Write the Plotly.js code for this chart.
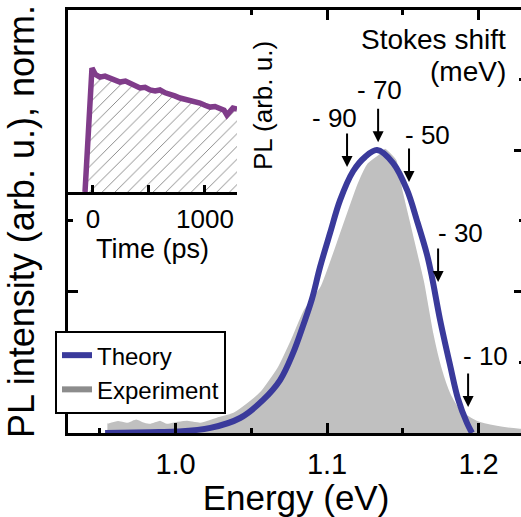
<!DOCTYPE html>
<html>
<head>
<meta charset="utf-8">
<script src="https://cdn.plot.ly/plotly-3.0.1.min.js"></script>
<style>
html,body{margin:0;padding:0;overflow:hidden;background:#fff;width:521px;height:517px;}
#plot{width:528px;height:517px;}
</style>
</head>
<body>
<div id="plot"></div>
<script>
// ---- Main panel data (energy in eV, normalized PL) ----
var theoryE = [0.9535, 0.983, 1.000, 1.023, 1.0426, 1.0578, 1.069, 1.0776, 1.0842, 1.090, 1.0954, 1.102, 1.1086, 1.1172, 1.125, 1.133, 1.1436, 1.1528, 1.1594, 1.166, 1.1693, 1.1746, 1.1812, 1.1865, 1.1924, 1.1957];
var theoryI = [0.0, 0.003, 0.005, 0.018, 0.053, 0.117, 0.187, 0.283, 0.380, 0.473, 0.587, 0.707, 0.823, 0.925, 0.975, 1.0, 0.954, 0.859, 0.750, 0.630, 0.550, 0.400, 0.240, 0.120, 0.035, 0.0];

var expE = [0.955, 0.962, 0.968, 0.974, 0.979, 0.9832, 0.9898, 0.9944, 1.001, 1.0076, 1.0162, 1.0274, 1.038, 1.0492, 1.0558, 1.067, 1.0756, 1.0842, 1.0954, 1.1086, 1.1198, 1.1264, 1.133, 1.1383, 1.1462, 1.1502, 1.1554, 1.1607, 1.1647, 1.1667, 1.1706, 1.1759, 1.1818, 1.1884, 1.199, 1.2122, 1.2274, 1.231];
var expI = [0.035, 0.045, 0.039, 0.050, 0.040, 0.035, 0.046, 0.035, 0.042, 0.046, 0.039, 0.057, 0.074, 0.117, 0.148, 0.233, 0.329, 0.435, 0.520, 0.715, 0.883, 0.954, 0.982, 1.007, 0.965, 0.859, 0.742, 0.622, 0.530, 0.470, 0.353, 0.233, 0.141, 0.081, 0.046, 0.028, 0.018, 0.017];

// ---- Inset data (time in ps, PL arb. u.) ----
var timePs = [-71, -45, -18, -9, 20, 62, 107, 152, 200, 241, 290, 330, 375, 420, 465, 509, 555, 598, 645, 688, 730, 777, 820, 866, 910, 955, 1000, 1045, 1090, 1134, 1170, 1196, 1225, 1250, 1286];
var insetPL = [0, 0.50, 0.944, 1.0, 0.95, 0.927, 0.935, 0.919, 0.90, 0.887, 0.895, 0.879, 0.86, 0.839, 0.845, 0.823, 0.815, 0.823, 0.80, 0.782, 0.775, 0.758, 0.75, 0.742, 0.73, 0.718, 0.70, 0.685, 0.69, 0.677, 0.66, 0.621, 0.66, 0.677, 0.67];

// ---- Stokes shift markers ----
var shiftLabels = ['- 90', '- 70', '- 50', '- 30', '- 10'];
var shiftArrowE = [1.1132, 1.1337, 1.1541, 1.1733, 1.1931];
var shiftArrowI = [0.94, 1.028, 0.887, 0.534, 0.092];
var shiftLabelE = [1.1046, 1.1343, 1.166, 1.1878, 1.2043];
var shiftLabelI = [1.113, 1.212, 1.053, 0.707, 0.272];

// ---- tick definitions ----
var xTickVals = [1.0, 1.1, 1.2];
var xTickText = ['1.0', '1.1', '1.2'];
var insetXTickVals = [0, 500, 1000];
var insetXTickText = ['0', '', '1000'];
var insetRightTicks = [1.282, 1.0, 0.919, 0.839, 0.766, 0.685, 0.621, 0.323, 0.032];

var FONT = 'Liberation Sans, Arial, Helvetica, sans-serif';
var BLUE = 'rgb(58,58,155)';
var PURPLE = 'rgb(128,60,138)';

var traces = [
  {x: expE, y: expI, type: 'scatter', mode: 'lines', fill: 'tozeroy', fillcolor: '#c0c0c0',
   line: {color: 'white', width: 1.5, shape: 'spline', smoothing: 0.5}, showlegend: false, hoverinfo: 'skip'},
  {x: theoryE, y: theoryI, type: 'scatter', mode: 'lines', name: 'Theory',
   line: {color: BLUE, width: 6, shape: 'spline', smoothing: 1.0}},
  {x: [null], y: [null], type: 'scatter', mode: 'lines', name: 'Experiment',
   line: {color: '#8c8c8c', width: 6}},
  {x: timePs, y: insetPL, xaxis: 'x2', yaxis: 'y2', type: 'scatter', mode: 'lines',
   fill: 'tozeroy', fillcolor: 'white',
   fillpattern: {shape: '/', size: 9, solidity: 0.1, fgcolor: '#808080', bgcolor: 'white'},
   line: {color: PURPLE, width: 5.5}, showlegend: false, cliponaxis: true}
];

var annotations = [
  {xref: 'x', yref: 'y', x: 1.17, y: 1.392, text: 'Stokes shift', showarrow: false, font: {size: 28, family: FONT, color: 'black'}},
  {xref: 'x', yref: 'y', x: 1.193, y: 1.276, text: '(meV)', showarrow: false, font: {size: 28, family: FONT, color: 'black'}},
  {xref: 'paper', yref: 'paper', x: 0.4276, y: 0.7754, xanchor: 'center', yanchor: 'middle',
   text: 'PL (arb. u.)', textangle: -90, showarrow: false,
   font: {size: 26, family: FONT, color: 'black'}}
];
for (var i = 0; i < shiftLabels.length; i++) {
  annotations.push({xref: 'x', yref: 'y', x: shiftLabelE[i], y: shiftLabelI[i], text: shiftLabels[i],
    showarrow: false, font: {size: 26, family: FONT, color: 'black'}});
  annotations.push({xref: 'x', yref: 'y', x: shiftArrowE[i], y: shiftArrowI[i], text: '',
    showarrow: true, arrowhead: 2, arrowsize: 1.1, arrowwidth: 2, arrowcolor: 'black', ax: 0, ay: -35, standoff: 0});
}

var layout = {
  width: 528, height: 517,
  margin: {l: 68, r: 4, t: 10, b: 84},
  paper_bgcolor: 'white', plot_bgcolor: 'white',
  font: {family: FONT, color: 'black'},
  showlegend: true,
  legend: {x: -0.0285, y: 0.241, xanchor: 'left', yanchor: 'top', bgcolor: 'white',
           bordercolor: 'black', borderwidth: 2, font: {size: 24, family: FONT, color: 'black'},
           tracegroupgap: 0},
  xaxis: {range: [0.929, 1.230], showgrid: false, zeroline: false, showline: true, linecolor: 'black', linewidth: 3,
          mirror: 'ticks', ticks: 'inside', ticklen: 10, tickwidth: 3, tickcolor: 'black',
          tickvals: xTickVals, ticktext: xTickText, tickfont: {size: 29, family: FONT},
          ticklabelstandoff: 3,
          minor: {dtick: 0.05, tick0: 0.95, ticks: 'inside', ticklen: 5, tickwidth: 3, tickcolor: 'black', showgrid: false},
          title: {text: 'Energy (eV)', font: {size: 35, family: FONT}, standoff: 3}},
  yaxis: {range: [0, 1.495], showgrid: false, zeroline: false, showline: true, linecolor: 'black', linewidth: 3,
          mirror: 'ticks', ticks: 'inside', ticklen: 10, tickwidth: 3, tickcolor: 'black',
          dtick: 0.5, tick0: 0, showticklabels: false,
          minor: {dtick: 0.25, tick0: 0, ticks: 'inside', ticklen: 5, tickwidth: 3, tickcolor: 'black', showgrid: false},
          title: {text: 'PL intensity (arb. u.), norm.', font: {size: 36, family: FONT}, standoff: 20}},
  xaxis2: {domain: [0, 0.3706], anchor: 'y2', range: [-223, 1286], showgrid: false, zeroline: false,
           showline: true, linecolor: 'black', linewidth: 3, ticks: 'inside', ticklen: 7, tickwidth: 3, tickcolor: 'black',
           tickvals: insetXTickVals, ticktext: insetXTickText, tickfont: {size: 26, family: FONT},
           ticklabelstandoff: 2,
           title: {text: 'Time (ps)', font: {size: 27, family: FONT}, standoff: 2}},
  yaxis2: {domain: [0.5697, 1], anchor: 'x2', range: [0, 1.468], showgrid: false, zeroline: false,
           showline: false, ticks: '', showticklabels: false},
  yaxis3: {domain: [0.5697, 1], anchor: 'x2', overlaying: 'y2', side: 'right', range: [0, 1.468],
           showgrid: false, zeroline: false, showline: true, linecolor: 'black', linewidth: 3,
           ticks: 'inside', ticklen: 7, tickwidth: 3, tickcolor: 'black', tickvals: insetRightTicks,
           showticklabels: false},
  annotations: annotations
};

Plotly.newPlot('plot', traces, layout, {staticPlot: true, displayModeBar: false});
</script>
</body>
</html>
